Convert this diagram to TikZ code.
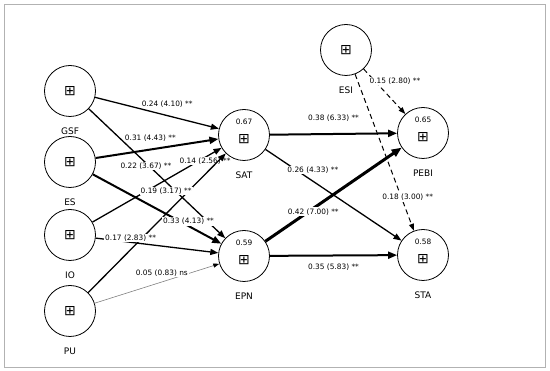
\documentclass[tikz,border=0pt]{standalone}
\usepackage{fontspec}
\setmainfont{DejaVu Sans}
\usetikzlibrary{positioning, arrows.meta}

\newcommand{\lvicon}{{\fontsize{14pt}{15pt}\selectfont ⊞}}

\begin{document}
\begin{tikzpicture}[
  x=1pt, y=-1pt,
  node distance=8pt,
  latent/.style={circle, draw=black, line width=0.8pt, minimum size=51pt, inner sep=0pt},
  latname/.style={font=\fontsize{9pt}{11pt}\selectfont, inner sep=3pt},
  rsq/.style={font=\fontsize{7.4pt}{9pt}\selectfont, inner sep=1pt},
  coef/.style={fill=white, inner sep=1pt, font=\fontsize{7.4pt}{9pt}\selectfont},
  pathn/.style={line width=1.3pt, -{Triangle[length=8pt, width=6pt]}},
  pathk/.style={line width=2pt, -{Triangle[length=9pt, width=7pt]}},
  pathvk/.style={line width=3pt, -{Triangle[length=10pt, width=8pt]}},
  pathns/.style={line width=0.6pt, draw=gray, -{Triangle[length=6pt, width=4pt, black]}},
  pathmod/.style={line width=1pt, dash pattern=on 5pt off 3.5pt, -{Triangle[length=7pt, width=5pt]}}
]
\useasboundingbox (0,0) rectangle (550,371);
\draw[gray!60, line width=0.8pt] (4,4) rectangle (545,367);

% -------- EXOGENOUS CONSTRUCTS --------
\node[latent] (GSF) at (70,91) {\lvicon};
\node[latent] (ES) at (70,162) {\lvicon};
\node[latent] (IO) at (70,235) {\lvicon};
\node[latent] (PU) at (70,311) {\lvicon};
\node[latent] (ESI) at (346,50) {\lvicon};

% -------- ENDOGENOUS CONSTRUCTS --------
\node[latent] (SAT) at (244,135) {};
\node[latent] (EPN) at (244,256) {};
\node[latent] (PEBI) at (423,133) {};
\node[latent] (STA) at (423,255) {};

\node (SATicon) at ([yshift=-4pt]SAT.center) {\lvicon};
\node (EPNicon) at ([yshift=-4pt]EPN.center) {\lvicon};
\node (PEBIicon) at ([yshift=-4pt]PEBI.center) {\lvicon};
\node (STAicon) at ([yshift=-4pt]STA.center) {\lvicon};

\node[rsq] (SATr2) at ([yshift=13pt]SAT.center) {0.67};
\node[rsq] (EPNr2) at ([yshift=13pt]EPN.center) {0.59};
\node[rsq] (PEBIr2) at ([yshift=13pt]PEBI.center) {0.65};
\node[rsq] (STAr2) at ([yshift=13pt]STA.center) {0.58};

% Names
\node[latname, below=of GSF] (GSFname) {GSF};
\node[latname, below=of ES] (ESname) {ES};
\node[latname, below=of IO] (IOname) {IO};
\node[latname, below=of PU] (PUname) {PU};
\node[latname, below=of ESI] (ESIname) {ESI};
\node[latname, below=of SAT] (SATname) {SAT};
\node[latname, below=of EPN] (EPNname) {EPN};
\node[latname, below=of PEBI] (PEBIname) {PEBI};
\node[latname, below=of STA] (STAname) {STA};

% Paths into SAT and EPN
\draw[pathn] (GSF) -- node[coef, pos=0.56, shift={(2.8,-10.8)}] {0.24 (4.10) **} (SAT);
\draw[pathk] (ES) -- node[coef, pos=0.46, shift={(-1.7,-11.4)}] {0.31 (4.43) **} (SAT);
\draw[pathn] (GSF) -- node[coef, pos=0.43, shift={(-1.5,1.6)}] {0.22 (3.67) **} (EPN);
\draw[pathn] (IO) -- node[coef, pos=0.86, shift={(1.6,2.7)}] {0.14 (2.56) **} (SAT);
\draw[pathn] (PU) -- node[coef, pos=0.65, shift={(-11.5,-11.3)}] {0.19 (3.17) **} (SAT);
\draw[pathk] (ES) -- node[coef, pos=0.73, shift={(2,-3.7)}] {0.33 (4.13) **} (EPN);
\draw[pathn] (IO) -- node[coef, pos=0.28, shift={(0.6,-4.3)}] {0.17 (2.83) **} (EPN);
\draw[pathns] (PU) -- node[coef, pos=0.56, shift={(-2.6,-8)}] {0.05 (0.83) ns} (EPN);

% Paths into PEBI and STA
\draw[pathk] (SAT) -- node[coef, pos=0.5, shift={(0,-16)}] {0.38 (6.33) **} (PEBI);
\draw[pathn] (SAT) -- node[coef, pos=0.31, shift={(5.2,-7.7)}] {0.26 (4.33) **} (STA);
\draw[pathvk] (EPN) -- node[coef, pos=0.34, shift={(1.6,2.3)}] {0.42 (7.00) **} (PEBI);
\draw[pathk] (EPN) -- node[coef, pos=0.5, shift={(0,11.5)}] {0.35 (5.83) **} (STA);

% Paths from ESI
\draw[pathmod] (ESI) -- node[coef, pos=0.49, shift={(10.9,-10.1)}] {0.15 (2.80) **} (PEBI);
\draw[pathmod] (ESI) -- node[coef, pos=0.8, shift={(5.6,-2.1)}] {0.18 (3.00) **} (STA);

\end{tikzpicture}
\end{document}
